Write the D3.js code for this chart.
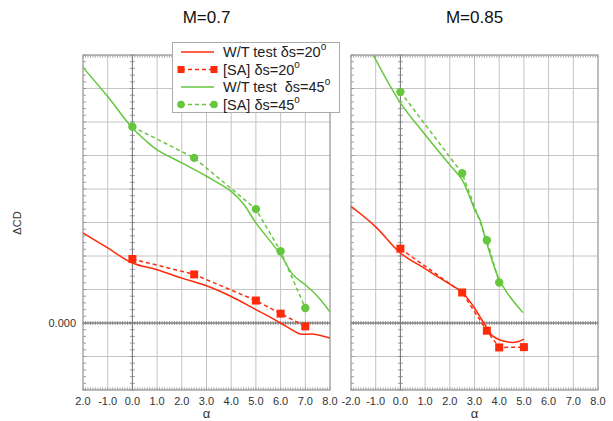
<!DOCTYPE html>
<html>
<head>
<meta charset="utf-8">
<script src="https://cdn.jsdelivr.net/npm/d3@7"></script>
<style>
  body { margin: 0; background: #fff; }
  text { font-family: "Liberation Sans", Arial, sans-serif; white-space: pre; }
</style>
</head>
<body>
<svg id="chart" width="613" height="421"></svg>
<script>
// alpha ticks and labels (left panel shows "2.0" without the minus)
const alphaTicks = [-2, -1, 0, 1, 2, 3, 4, 5, 6, 7, 8];
const leftTickLabels = ["2.0", "-1.0", "0.0", "1.0", "2.0", "3.0", "4.0", "5.0", "6.0", "7.0", "8.0"];
const rightTickLabels = ["-2.0", "-1.0", "0.0", "1.0", "2.0", "3.0", "4.0", "5.0", "6.0", "7.0", "8.0"];
const yGrid = [-2, -1, 0, 1, 2, 3, 4, 5, 6, 7, 8];

// M=0.7  [alpha, dCD] in grid units
const m07_wt20 = [[-2, 2.69], [-1, 2.24], [0, 1.79], [1, 1.59], [2, 1.34], [3, 1.11], [4, 0.79],
  [5, 0.40], [6, 0.0], [6.5, -0.22], [6.8, -0.33], [7.3, -0.33], [8, -0.45]];
const m07_sa20 = [[0, 1.91], [2.5, 1.45], [5, 0.67], [6, 0.28], [7, -0.10]];
const m07_wt45 = [[-2, 7.63], [-1, 6.76], [0, 5.82], [0.5, 5.47], [1, 5.17], [2, 4.78], [3, 4.38],
  [4, 3.93], [4.5, 3.55], [5, 2.99], [6, 2.04], [6.5, 1.44], [7, 1.14], [7.5, 0.79], [8, 0.33]];
const m07_sa45 = [[0, 5.86], [2.5, 4.93], [5, 3.40], [6, 2.14], [7, 0.45]];

// M=0.85
const m085_wt20 = [[-2, 3.48], [-1, 2.87], [0, 2.09], [1, 1.62], [2, 1.16], [2.5, 0.92], [2.95, 0.50],
  [3.43, -0.06], [3.76, -0.40], [4.3, -0.56], [4.7, -0.57], [5, -0.48]];
const m085_sa20 = [[0, 2.22], [2.5, 0.91], [3.5, -0.23], [4, -0.73], [5, -0.72]];
const m085_wt45 = [[-1.1, 8.0], [0, 6.57], [1, 5.62], [2, 4.72], [2.5, 4.27], [3.0, 3.40], [3.22, 3.08],
  [3.43, 2.55], [3.95, 1.38], [4.32, 0.90], [4.96, 0.31]];
const m085_sa45 = [[0, 6.90], [2.5, 4.47], [3.5, 2.47], [4, 1.21]];

const RED = "#ff2a0a";
const GREEN = "#66c73e";

const svg = d3.select("#chart");
const plotW = 247, plotH = 335, plotTop = 55;

const x = d3.scaleLinear().domain([-2, 8]).range([0, plotW]);
const y = d3.scaleLinear().domain([-2, 8]).range([plotH, 0]);

const line = d3.line().x(d => x(d[0])).y(d => y(d[1])).curve(d3.curveCatmullRom);
const straight = d3.line().x(d => x(d[0])).y(d => y(d[1]));

function drawPanel(left, title, tickLabels, series, clipId) {
    const g = svg.append("g").attr("transform", `translate(${left},${plotTop})`);

    g.append("clipPath").attr("id", clipId)
        .append("rect").attr("width", plotW).attr("height", plotH);

    // grid
    g.selectAll("line.vg").data(alphaTicks).join("line")
        .attr("class", "vg")
        .attr("x1", d => x(d)).attr("x2", d => x(d))
        .attr("y1", 0).attr("y2", plotH)
        .attr("stroke", "#c4c4c4");
    g.selectAll("line.hg").data(yGrid).join("line")
        .attr("class", "hg")
        .attr("x1", 0).attr("x2", plotW)
        .attr("y1", d => y(d)).attr("y2", d => y(d))
        .attr("stroke", "#c4c4c4");

    // minor ticks
    const xMinor = d3.range(-2, 8.001, 0.1);
    const yMinor = d3.range(-2, 8.001, 0.2);
    const ticks = g.append("g").attr("stroke", "#888").attr("stroke-width", 0.8);
    xMinor.forEach(v => {
        ticks.append("line").attr("x1", x(v)).attr("x2", x(v)).attr("y1", 0).attr("y2", 2.5);
        ticks.append("line").attr("x1", x(v)).attr("x2", x(v)).attr("y1", plotH).attr("y2", plotH - 2.5);
        ticks.append("line").attr("x1", x(v)).attr("x2", x(v)).attr("y1", y(0) - 2).attr("y2", y(0) + 2);
    });
    yMinor.forEach(v => {
        ticks.append("line").attr("x1", 0).attr("x2", 3).attr("y1", y(v)).attr("y2", y(v));
        ticks.append("line").attr("x1", x(0) - 2.5).attr("x2", x(0) + 2.5).attr("y1", y(v)).attr("y2", y(v));
    });

    // zero lines
    g.append("line").attr("x1", 0).attr("x2", plotW).attr("y1", y(0)).attr("y2", y(0))
        .attr("stroke", "#666");
    g.append("line").attr("x1", x(0)).attr("x2", x(0)).attr("y1", 0).attr("y2", plotH)
        .attr("stroke", "#777");

    // frame
    g.append("rect").attr("width", plotW).attr("height", plotH)
        .attr("fill", "none").attr("stroke", "#999");

    // tick labels
    g.selectAll("text.tl").data(alphaTicks).join("text")
        .attr("class", "tl")
        .attr("x", d => x(d)).attr("y", plotH + 15)
        .attr("text-anchor", "middle")
        .attr("font-size", 11).attr("fill", "#333")
        .text((d, i) => tickLabels[i]);

    g.append("text").attr("x", plotW / 2).attr("y", plotH + 28)
        .attr("text-anchor", "middle").attr("font-size", 13).attr("fill", "#333")
        .text("α");

    svg.append("text").attr("x", left + plotW / 2).attr("y", 23)
        .attr("text-anchor", "middle").attr("font-size", 17).attr("fill", "#111")
        .text(title);

    const plot = g.append("g").attr("clip-path", `url(#${clipId})`);
    series.forEach(s => {
        plot.append("path").datum(s.data)
            .attr("d", s.dashed ? straight : line)
            .attr("fill", "none").attr("stroke", s.color).attr("stroke-width", 1.5)
            .attr("stroke-dasharray", s.dashed ? "4,3" : null);
        if (s.marker === "square") {
            g.selectAll(null).data(s.data).join("rect")
                .attr("x", d => x(d[0]) - 4).attr("y", d => y(d[1]) - 4)
                .attr("width", 8).attr("height", 8).attr("fill", s.color);
        } else if (s.marker === "circle") {
            g.selectAll(null).data(s.data).join("circle")
                .attr("cx", d => x(d[0])).attr("cy", d => y(d[1]))
                .attr("r", 4.2).attr("fill", s.color);
        }
    });
}

drawPanel(83, "M=0.7", leftTickLabels, [
    { data: m07_wt20, color: RED },
    { data: m07_sa20, color: RED, dashed: true, marker: "square" },
    { data: m07_wt45, color: GREEN },
    { data: m07_sa45, color: GREEN, dashed: true, marker: "circle" }
], "clipL");

drawPanel(351, "M=0.85", rightTickLabels, [
    { data: m085_wt20, color: RED },
    { data: m085_sa20, color: RED, dashed: true, marker: "square" },
    { data: m085_wt45, color: GREEN },
    { data: m085_sa45, color: GREEN, dashed: true, marker: "circle" }
], "clipR");

// y axis label and the only y tick label
svg.append("text").attr("x", 76).attr("y", plotTop + y(0) + 4)
    .attr("text-anchor", "end").attr("font-size", 11).attr("fill", "#333")
    .text("0.000");
svg.append("text").attr("transform", "translate(21,223) rotate(-90)")
    .attr("text-anchor", "middle").attr("font-size", 11).attr("fill", "#333")
    .text("ΔCD");

// legend
const legendItems = [
    { label: "W/T test δs=20", color: RED },
    { label: "[SA] δs=20", color: RED, dashed: true, marker: "square" },
    { label: "W/T test  δs=45", color: GREEN },
    { label: "[SA] δs=45", color: GREEN, dashed: true, marker: "circle" }
];
const legend = svg.append("g");
legend.append("rect").attr("x", 172.5).attr("y", 42.5).attr("width", 167).attr("height", 70)
    .attr("fill", "#fff").attr("stroke", "#aaa");
legendItems.forEach((it, i) => {
    const ly = 52 + i * 17.5;
    legend.append("line").attr("x1", 181).attr("x2", 214).attr("y1", ly).attr("y2", ly)
        .attr("stroke", it.color).attr("stroke-width", 1.5)
        .attr("stroke-dasharray", it.dashed ? "4,3" : null);
    if (it.marker === "square") {
        [181, 214].forEach(px => legend.append("rect").attr("x", px - 3.5).attr("y", ly - 3.5)
            .attr("width", 7).attr("height", 7).attr("fill", it.color));
    } else if (it.marker === "circle") {
        [181, 214].forEach(px => legend.append("circle").attr("cx", px).attr("cy", ly)
            .attr("r", 3.8).attr("fill", it.color));
    }
    const t = legend.append("text").attr("x", 223).attr("y", ly + 5)
        .attr("font-size", 14.5).attr("fill", "#222");
    t.append("tspan").text(it.label);
    t.append("tspan").attr("dy", -7).attr("font-size", 10).text("o");
});
</script>
</body>
</html>
